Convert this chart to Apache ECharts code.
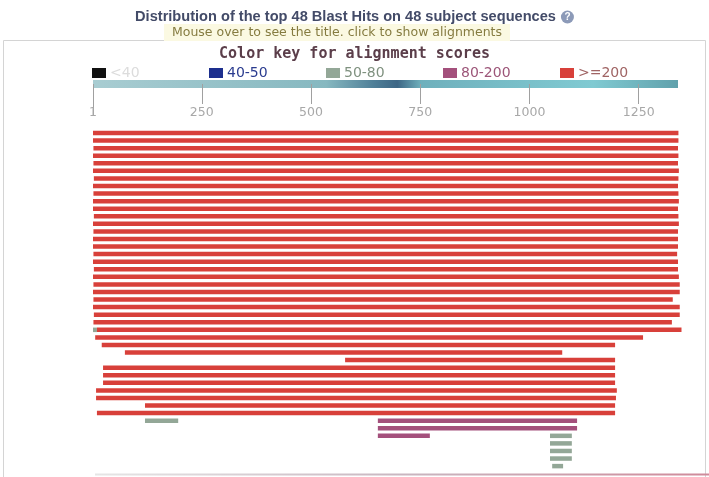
<!DOCTYPE html>
<html>
<head>
<meta charset="utf-8">
<script src="https://cdn.jsdelivr.net/npm/echarts@6/dist/echarts.min.js"></script>
<style>
  html, body { margin: 0; padding: 0; background: #ffffff; }
  #chart { width: 709px; height: 477px; }
</style>
</head>
<body>
<div id="chart"></div>
<script>
// Query coordinate range and ruler ticks
const queryMin = 1;
const queryMax = 1340;
const axisTicks = [1, 250, 500, 750, 1000, 1250];

// Alignment score classes (color key)
const scoreLabels = ['<40', '40-50', '50-80', '80-200', '>=200'];
const scoreColors = ['#111111', '#1d2f8e', '#93a797', '#a4507c', '#d8403a'];
const scoreTextColors = ['#dcdcdc', '#2a3b8f', '#7f917f', '#9c5578', '#a06464'];

// Subject sequences, one per row (top to bottom)
const subjects = [
  'S01','S02','S03','S04','S05','S06','S07','S08','S09','S10',
  'S11','S12','S13','S14','S15','S16','S17','S18','S19','S20',
  'S21','S22','S23','S24','S25','S26','S27','S28','S29','S30',
  'S31','S32','S33','S34','S35','S36','S37','S38','S39','S40',
  'S41','S42','S43','S44','S45'
];

// HSP segments: row index, query start, query end, score class
const segRow = [
  0, 1, 2, 3, 4, 5, 6, 7, 8, 9,
  10, 11, 12, 13, 14, 15, 16, 17, 18, 19,
  20, 21, 22, 23, 24, 25, 26, 26, 27, 28,
  29, 30, 31, 32, 33, 34, 35, 36, 37, 38,
  38, 39, 40, 40, 41, 42, 43, 44
];
const segStart = [
  1, 1, 2, 1, 2, 1, 3, 1, 2, 1,
  1, 3, 1, 2, 1, 1, 2, 1, 3, 1,
  2, 1, 2, 1, 3, 2, 1, 10, 6, 21,
  74, 578, 24, 24, 24, 8, 8, 120, 10, 120,
  653, 653, 653, 1047, 1047, 1047, 1047, 1052
];
const segEnd = [
  1341, 1341, 1340, 1341, 1340, 1342, 1341, 1340, 1341, 1342,
  1340, 1341, 1342, 1340, 1340, 1340, 1338, 1340, 1340, 1342,
  1344, 1344, 1328, 1344, 1344, 1326, 10, 1348, 1260, 1196,
  1075, 1196, 1196, 1196, 1196, 1200, 1198, 1196, 1196, 196,
  1109, 1109, 772, 1097, 1097, 1097, 1097, 1077
];
const segClass = [
  4, 4, 4, 4, 4, 4, 4, 4, 4, 4,
  4, 4, 4, 4, 4, 4, 4, 4, 4, 4,
  4, 4, 4, 4, 4, 4, 2, 4, 4, 4,
  4, 4, 4, 4, 4, 4, 4, 4, 4, 2,
  3, 3, 3, 2, 2, 2, 2, 2
];

const segData = segRow.map((r, i) => [segStart[i], segEnd[i], r, segClass[i]]);

const chart = echarts.init(document.getElementById('chart'), null, { renderer: 'canvas' });

const gridTop = 129.2;
const rulerY = 84;
const rulerOffset = gridTop - rulerY;

// Color key: swatch + label in evenly spaced columns
const keyItems = scoreLabels.map((lbl, i) => ({
  type: 'text',
  left: 92 + 117 * i,
  top: 66,
  style: {
    text: '{sq|}{t|' + lbl + '}',
    rich: {
      sq: { backgroundColor: scoreColors[i], width: 14, height: 10 },
      t: {
        fontFamily: 'DejaVu Sans', fontSize: 14, fill: scoreTextColors[i],
        padding: [0, 0, 0, 4]
      }
    }
  }
}));

chart.setOption({
  animation: false,
  backgroundColor: '#ffffff',
  title: [
    {
      text: '{t|Distribution of the top 48 Blast Hits on 48 subject sequences} {q|?}',
      left: 'center',
      top: 3,
      textStyle: {
        rich: {
          t: { fontFamily: 'Liberation Sans', fontWeight: 'bold', fontSize: 14.6, color: '#434b68' },
          q: { fontFamily: 'Liberation Sans', fontWeight: 'bold', fontSize: 10, color: '#ffffff',
               backgroundColor: '#8c9ab8', borderRadius: 7, width: 13, height: 13, align: 'center', lineHeight: 13 }
        }
      }
    },
    {
      text: 'Mouse over to see the title. click to show alignments',
      left: 164,
      top: 24,
      backgroundColor: '#fbf9e2',
      padding: [2, 8, 2, 8],
      textStyle: { fontFamily: 'DejaVu Sans', fontSize: 12.5, fontWeight: 'normal', color: '#857b40' }
    },
    {
      text: 'Color key for alignment scores',
      left: 'center',
      top: 47,
      padding: 0,
      textStyle: { fontFamily: 'DejaVu Sans Mono', fontSize: 15, fontWeight: 'bold', color: '#5b3e4a' }
    }
  ],
  graphic: [
    {
      type: 'rect',
      silent: true,
      z: -1,
      shape: { x: 3.5, y: 40.5, width: 702, height: 460 },
      style: { fill: 'none', stroke: '#d4d4d4', lineWidth: 1 }
    },
    {
      type: 'line',
      silent: true,
      shape: { x1: 95, y1: 474.5, x2: 709, y2: 474.5 },
      style: {
        lineWidth: 2,
        stroke: new echarts.graphic.LinearGradient(0, 0, 1, 0, [
          { offset: 0, color: '#e6e6e6' },
          { offset: 0.5, color: '#c9b6c0' },
          { offset: 1, color: '#d08a9a' }
        ])
      }
    }
  ].concat(keyItems),
  grid: { left: 93, right: 31, top: gridTop, bottom: 7.1 },
  xAxis: [
    {
      type: 'value',
      min: queryMin,
      max: queryMax,
      position: 'top',
      offset: rulerOffset,
      axisLine: {
        show: true,
        lineStyle: {
          width: 8,
          cap: 'butt',
          color: new echarts.graphic.LinearGradient(0, 0, 1, 0, [
            { offset: 0, color: '#a9cdd2' },
            { offset: 0.4, color: '#86b8c0' },
            { offset: 0.48, color: '#4f7f98' },
            { offset: 0.52, color: '#3d6685' },
            { offset: 0.56, color: '#6fb0bc' },
            { offset: 0.85, color: '#80cad2' },
            { offset: 1, color: '#5f9faa' }
          ])
        }
      },
      axisTick: {
        show: true,
        inside: true,
        length: 20,
        customValues: axisTicks,
        lineStyle: { color: '#a0a0a0', width: 1 }
      },
      axisLabel: {
        show: true,
        inside: true,
        margin: 22,
        customValues: axisTicks,
        fontFamily: 'DejaVu Sans',
        fontSize: 12.5,
        color: '#a8a8a8',
        formatter: v => String(v)
      },
      splitLine: { show: false }
    },
    {
      // longer origin tick under the ruler
      type: 'value',
      min: queryMin,
      max: queryMax,
      position: 'top',
      offset: rulerOffset,
      axisLine: { show: false },
      axisTick: {
        show: true,
        inside: true,
        length: 32,
        customValues: [queryMin],
        lineStyle: { color: '#a0a0a0', width: 1 }
      },
      axisLabel: { show: false },
      splitLine: { show: false }
    }
  ],
  yAxis: {
    type: 'category',
    data: subjects,
    inverse: true,
    show: false,
    boundaryGap: true
  },
  series: [
    {
      type: 'custom',
      xAxisIndex: 0,
      encode: { x: [0, 1], y: 2 },
      data: segData,
      renderItem: function (params, api) {
        const row = api.value(2);
        const p0 = api.coord([api.value(0), row]);
        const p1 = api.coord([api.value(1), row]);
        const h = 4.5;
        return {
          type: 'rect',
          shape: { x: p0[0], y: p0[1] - h / 2, width: Math.max(1, p1[0] - p0[0]), height: h },
          style: { fill: scoreColors[api.value(3)] }
        };
      }
    }
  ]
});
</script>
</body>
</html>
